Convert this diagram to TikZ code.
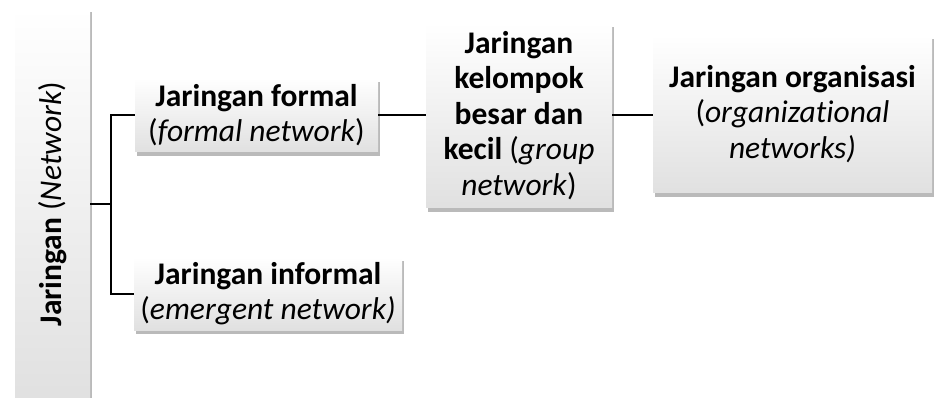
\documentclass[tikz,border=0pt]{standalone}
\usepackage{fontspec}
\setmainfont{Carlito}[Ligatures={NoCommon}]
\usetikzlibrary{shadows,positioning}
\tikzset{
  box/.style={draw=none, top color=white, bottom color=black!12, align=center,
    inner sep=0pt, font=\fontsize{31.5}{35.5}\selectfont,
    drop shadow={shadow xshift=2pt, shadow yshift=-4pt, opacity=0.45, fill=black!60}},
  conn/.style={line width=2pt, black}
}
\begin{document}
\begin{tikzpicture}[x=1pt,y=-1pt]
\useasboundingbox (0,0) rectangle (934,398);
\node[box, minimum width=75pt, minimum height=392pt] (root) at (52.5,204) {};
\node[rotate=90, font=\fontsize{31.5}{35.5}\selectfont] (roottext) at (root.center) {\textbf{Jaringan} (\textit{Network})};
\node[box, minimum width=243pt, minimum height=74pt] (formal) at (256.5,115) {\textbf{Jaringan formal}\\(\textit{formal network})};
\node[box, minimum width=268pt, minimum height=73pt] (informal) at (268,293.5) {\textbf{Jaringan informal}\\(\textit{emergent network)}};
\node[box, minimum width=186pt, minimum height=185pt] (group) at (519,115.5) {\textbf{Jaringan}\\\textbf{kelompok}\\\textbf{besar dan}\\\textbf{kecil} (\textit{group}\\\textit{network})};
\node[box, minimum width=279pt, minimum height=158pt] (org) at (792.5,114) {\textbf{Jaringan organisasi}\\(\textit{organizational}\\\textit{networks)}};
\coordinate (fork) at (111,204);
\draw[conn] (root.east |- fork) -- (fork);
\draw[conn] (fork) |- (formal.west);
\draw[conn] (fork) |- (informal.west);
\draw[conn] (formal.east) -- (group.west |- formal.east);
\draw[conn] (group.east |- formal.east) -- (org.west |- formal.east);
\end{tikzpicture}
\end{document}
